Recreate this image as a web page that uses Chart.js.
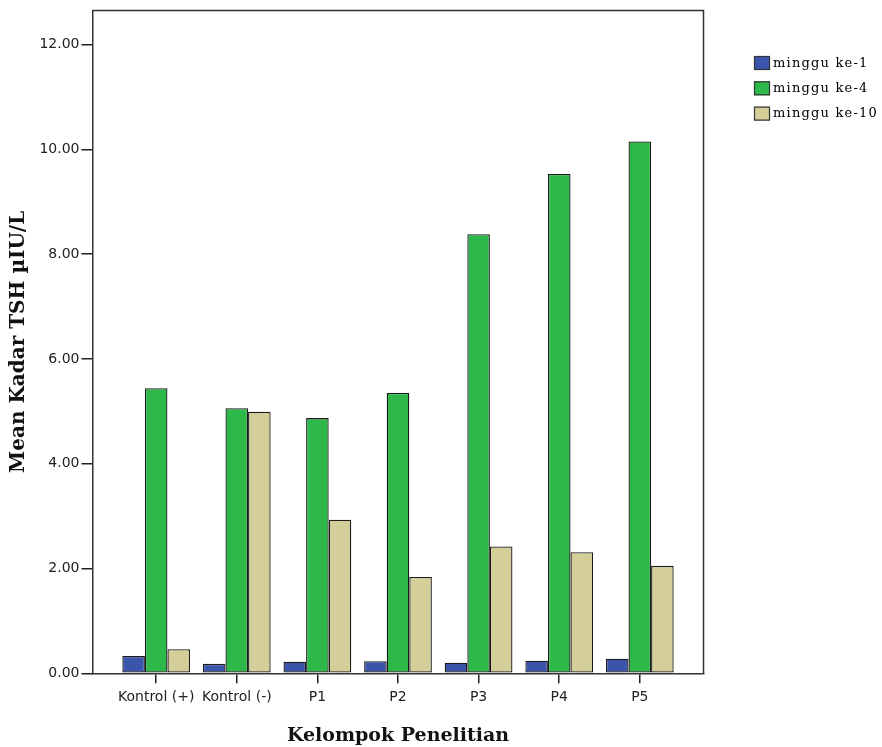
<!DOCTYPE html>
<html>
<head>
<meta charset="utf-8">
<script src="https://cdn.jsdelivr.net/npm/chart.js@4/dist/chart.umd.min.js"></script>
<style>
  html, body { margin: 0; padding: 0; background: #fff; }
  #wrap { width: 882px; height: 747px; }
</style>
</head>
<body>
<div id="wrap"><canvas id="c" width="882" height="747"></canvas></div>
<script>
const categories = ['Kontrol (+)', 'Kontrol (-)', 'P1', 'P2', 'P3', 'P4', 'P5'];
const seriesNames = ['minggu ke-1', 'minggu ke-4', 'minggu ke-10'];
const week1 = [0.33, 0.18, 0.22, 0.23, 0.20, 0.24, 0.28];
const week4 = [5.44, 5.06, 4.87, 5.35, 8.38, 9.53, 10.15];
const week10 = [0.46, 4.99, 2.93, 1.84, 2.42, 2.31, 2.05];
const yTicks = [0, 2, 4, 6, 8, 10, 12];
const colors = ['#3b55ad', '#2fb84a', '#d4cf99'];
const xTitle = 'Kelompok Penelitian';
const yTitle = 'Mean Kadar TSH \u00b5IU/L';

const toPoints = arr => arr.map((v, i) => ({ x: i, y: v }));
const seriesValues = [week1, week4, week10];

const frameAndLegend = {
  id: 'frameAndLegend',
  afterDatasetsDraw(chart) {
    const { ctx, chartArea: a } = chart;
    ctx.save();
    ctx.strokeStyle = '#333';
    ctx.lineWidth = 1.5;
    ctx.beginPath();
    ctx.moveTo(a.left, a.top);
    ctx.lineTo(a.right, a.top);
    ctx.lineTo(a.right, a.bottom);
    ctx.stroke();
    ctx.restore();
  },
  afterDraw(chart) {
    const { ctx } = chart;
    ctx.save();
    chart.data.datasets.forEach((ds, i) => {
      const x = 754, y = 56 + i * 25.3;
      ctx.fillStyle = ds.backgroundColor;
      ctx.fillRect(x, y, 16, 14);
      ctx.strokeStyle = '#333';
      ctx.lineWidth = 1.2;
      ctx.strokeRect(x + 0.5, y + 0.5, 15, 13);
      ctx.fillStyle = '#000';
      ctx.font = '13px "DejaVu Serif"';
      if ('letterSpacing' in ctx) ctx.letterSpacing = '1.2px';
      ctx.textBaseline = 'middle';
      ctx.textAlign = 'left';
      ctx.fillText(ds.label, x + 19, y + 7.5);
    });
    ctx.restore();
  }
};

new Chart(document.getElementById('c'), {
  type: 'bar',
  data: {
    datasets: seriesNames.map((name, i) => ({
      label: name,
      data: toPoints(seriesValues[i]),
      backgroundColor: colors[i],
      borderColor: '#1a1a1a',
      borderWidth: 1.3,
      borderSkipped: false,
      categoryPercentage: 0.84,
      barPercentage: 1.0
    }))
  },
  options: {
    responsive: false,
    animation: false,
    layout: { padding: { left: 0, right: 178.5, top: 8, bottom: 0 } },
    plugins: { legend: { display: false }, tooltip: { enabled: false } },
    scales: {
      x: {
        type: 'linear',
        min: -0.79,
        max: 6.79,
        offset: false,
        afterBuildTicks: axis => { axis.ticks = categories.map((_, i) => ({ value: i })); },
        afterFit: axis => { axis.height = 747 - 673.3; },
        ticks: {
          autoSkip: false,
          maxRotation: 0,
          minRotation: 0,
          padding: 6,
          color: '#222',
          font: { family: '"DejaVu Sans", sans-serif', size: 14 },
          callback: v => categories[v]
        },
        grid: { offset: false, drawOnChartArea: false, drawTicks: true, tickLength: 10, color: '#222', lineWidth: 1.5 },
        border: { display: true, color: '#333', width: 1.5 },
        title: {
          display: true,
          text: xTitle,
          color: '#111',
          font: { family: '"DejaVu Serif", serif', size: 19, weight: 'bold' },
          padding: { top: 0, bottom: 0 }
        }
      },
      y: {
        type: 'linear',
        min: 0,
        max: 12.65,
        afterBuildTicks: axis => { axis.ticks = yTicks.map(v => ({ value: v })); },
        afterFit: axis => { axis.width = 92.5; },
        ticks: {
          padding: 2,
          color: '#222',
          font: { family: '"DejaVu Sans", sans-serif', size: 14 },
          callback: v => Number(v).toFixed(2)
        },
        grid: { drawOnChartArea: false, drawTicks: true, tickLength: 11, color: '#222', lineWidth: 1.5 },
        border: { display: true, color: '#333', width: 1.5 },
        title: {
          display: true,
          text: yTitle,
          color: '#111',
          font: { family: '"DejaVu Serif", serif', size: 20, weight: 'bold' },
          padding: { top: 7, bottom: 0 }
        }
      }
    }
  },
  plugins: [frameAndLegend]
});
</script>
</body>
</html>
